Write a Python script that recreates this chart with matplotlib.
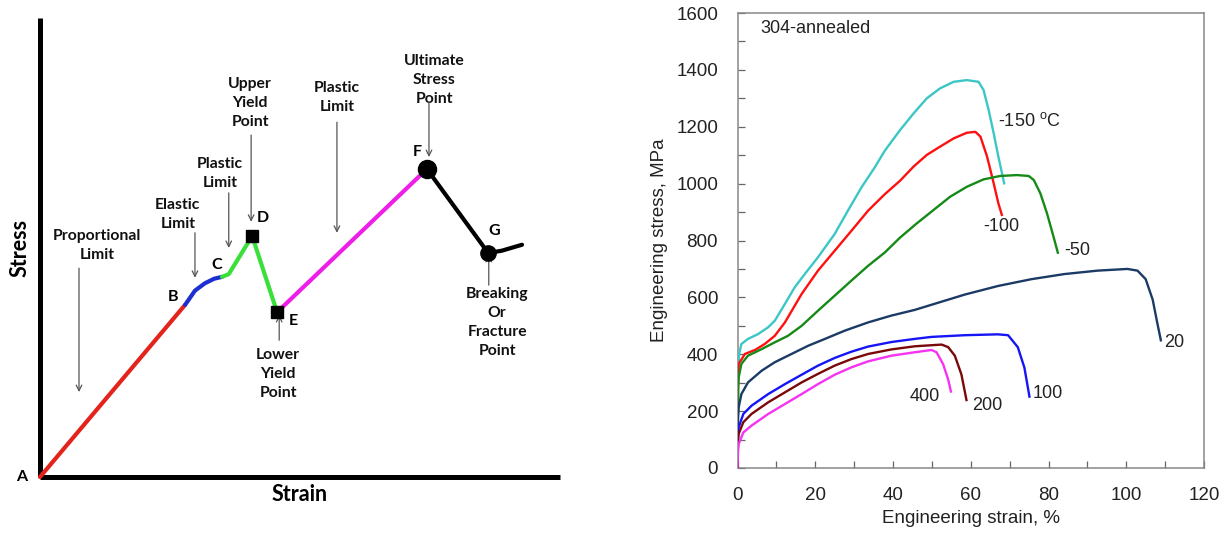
import matplotlib
matplotlib.use("Agg")
import matplotlib.pyplot as plt
from matplotlib.ticker import MultipleLocator

# ---------------- Left panel: schematic stress-strain diagram ----------------
seg_elastic_x = [0.0, 27.9]
seg_elastic_y = [0.0, 37.5]
seg_blue_x = [27.9, 29.8, 31.7, 33.5, 35.0]
seg_blue_y = [37.5, 40.6, 42.2, 43.2, 43.6]
seg_green_x = [35.0, 36.3, 40.8, 45.6]
seg_green_y = [43.6, 44.2, 52.5, 35.9]
seg_magenta_x = [45.6, 74.4]
seg_magenta_y = [35.9, 67.1]
seg_black_x = [74.4, 86.2, 88.8, 92.7]
seg_black_y = [67.1, 48.8, 49.3, 50.6]

square_pts_x = [40.8, 45.6]
square_pts_y = [52.5, 35.9]
circle_pts_x = [74.4, 86.2]
circle_pts_y = [67.1, 48.8]
circle_sizes = [13, 11]

point_letters = ["A", "B", "C", "D", "E", "F", "G"]
point_letter_x = [-3.5, 25.6, 34.0, 42.9, 48.7, 72.5, 87.3]
point_letter_y = [0.0, 39.2, 46.2, 56.4, 34.0, 70.8, 53.6]

notes = ["Proportional\nLimit", "Elastic\nLimit", "Plastic\nLimit", "Upper\nYield\nPoint",
         "Lower\nYield\nPoint", "Plastic\nLimit", "Ultimate\nStress\nPoint",
         "Breaking\nOr\nFracture\nPoint"]
note_x = [11.0, 26.5, 34.6, 40.4, 45.8, 57.1, 75.8, 87.9]
note_y = [50.5, 57.1, 66.2, 81.5, 22.4, 82.6, 86.5, 33.6]
arrow_x = [7.5, 29.8, 36.3, 40.6, 46.0, 57.1, 74.8, 86.3]
arrow_tail_y = [45.5, 53.2, 61.9, 74.5, 29.8, 77.3, 81.7, 41.8]
arrow_head_y = [18.5, 43.4, 49.9, 55.6, 35.3, 53.2, 69.7, 48.4]

# ---------------- Right panel: 304-annealed engineering curves ----------------
temps = ["-150", "-100", "-50", "20", "100", "200", "400"]
colors = ["#3cc6c6", "#ff1010", "#168a16", "#1c3a66", "#1515f5", "#7a0808", "#f533f0"]

strain_m150 = [0, 0.15, 0.4, 1.0, 2.7, 5.3, 7.9, 9.6, 12.2, 14.7, 17.3, 20.7, 25.0, 28.4,
               31.9, 35.3, 37.9, 41.8, 45.3, 48.7, 52.1, 55.6, 59.0, 62.0, 63.3, 64.6,
               65.9, 67.1, 68.6]
stress_m150 = [0, 300, 400, 436, 454, 471, 495, 518, 577, 635, 682, 741, 823, 905,
               987, 1057, 1116, 1188, 1247, 1300, 1335, 1358, 1364, 1358, 1329, 1259,
               1177, 1095, 1001]
strain_m100 = [0, 0.15, 0.3, 1.9, 4.5, 7.0, 9.6, 12.2, 16.5, 20.7, 25.0, 29.3, 33.6, 37.9,
               41.8, 45.3, 48.7, 52.1, 55.6, 59.0, 61.2, 62.5, 64.2, 65.9, 67.1, 68.0]
stress_m100 = [0, 300, 366, 401, 415, 436, 465, 512, 612, 694, 764, 834, 905, 963,
               1010, 1060, 1101, 1130, 1159, 1179, 1182, 1165, 1095, 1001, 931, 890]
strain_m50 = [0, 0.15, 0.3, 1.0, 2.7, 6.2, 9.6, 13.0, 16.5, 20.7, 25.0, 29.3, 33.6, 37.9,
              41.8, 46.1, 50.4, 54.7, 59.0, 63.3, 67.6, 71.9, 74.9, 76.2, 77.9, 79.6,
              81.3, 82.4]
stress_m50 = [0, 280, 319, 366, 395, 418, 442, 465, 500, 553, 606, 659, 711, 758,
              810, 860, 907, 954, 989, 1015, 1027, 1030, 1027, 1013, 966, 896,
              813, 757]
strain_20 = [0, 0.15, 0.3, 1.0, 2.7, 6.2, 9.6, 13.9, 18.2, 22.5, 27.6, 33.6, 39.6, 45.6,
             49.9, 58.5, 67.0, 75.6, 84.1, 92.6, 100.3, 102.9, 105.0, 106.8, 108.0, 108.9]
stress_20 = [0, 180, 213, 260, 301, 342, 372, 401, 430, 454, 483, 512, 536, 556,
             574, 610, 640, 664, 682, 694, 700, 694, 664, 592, 509, 449]
strain_100 = [0, 0.15, 0.3, 1.5, 3.6, 7.9, 12.2, 16.5, 20.7, 25.0, 29.3, 33.6, 39.6, 45.6,
              49.9, 58.5, 67.0, 69.6, 72.1, 73.8, 75.1]
stress_100 = [0, 120, 143, 190, 219, 260, 295, 328, 360, 387, 409, 427, 443, 454,
              461, 467, 470, 467, 425, 353, 251]
strain_200 = [0, 0.15, 0.3, 1.5, 3.6, 7.9, 12.2, 16.5, 20.7, 25.0, 29.3, 33.6, 39.6, 45.6,
              52.5, 54.2, 55.9, 57.6, 58.9]
stress_200 = [0, 100, 120, 161, 190, 231, 266, 301, 331, 360, 383, 401, 417, 428,
              434, 425, 395, 329, 239]
strain_400 = [0, 0.15, 0.3, 1.5, 3.6, 7.9, 12.2, 16.5, 20.7, 25.0, 29.3, 33.6, 39.6, 45.6,
              49.9, 51.2, 52.9, 54.2, 54.9]
stress_400 = [0, 65, 84, 125, 149, 190, 225, 260, 295, 328, 354, 375, 395, 407,
              415, 407, 365, 311, 269]

curve_strains = [strain_m150, strain_m100, strain_m50, strain_20, strain_100, strain_200, strain_400]
curve_stresses = [stress_m150, stress_m100, stress_m50, stress_20, stress_100, stress_200, stress_400]

label_texts = ["-150 $^{\\mathregular{o}}$C", "-100", "-50", "20", "100", "200", "400"]
label_x = [67.0, 63.2, 84.1, 109.7, 76.0, 60.3, 44.4]
label_y = [1221, 850, 766, 443, 263, 221, 251]

x_ticks = [0, 20, 40, 60, 80, 100, 120]
y_ticks = [0, 200, 400, 600, 800, 1000, 1200, 1400, 1600]

# ---------------- Figure ----------------
W, H = 1231, 534
fig = plt.figure(figsize=(W / 100, H / 100), dpi=100)

bold_font = ["Lato", "DejaVu Sans"]

axL = fig.add_axes([40 / W, 1 - 477 / H, 520 / W, 459 / H])
axL.set_xlim(0, 100)
axL.set_ylim(0, 100)
for s in ["top", "right"]:
    axL.spines[s].set_visible(False)
for s in ["left", "bottom"]:
    axL.spines[s].set_linewidth(3.6)
    axL.spines[s].set_color("black")
    axL.spines[s].set_capstyle("butt")
axL.set_xticks([])
axL.set_yticks([])

lw = 3.0
axL.plot(seg_elastic_x, seg_elastic_y, color="#e3241c", lw=lw, solid_capstyle="round", clip_on=False, zorder=3)
axL.plot(seg_blue_x, seg_blue_y, color="#1d2fd0", lw=lw, solid_capstyle="round", zorder=3)
axL.plot(seg_green_x, seg_green_y, color="#3ae03a", lw=lw, solid_capstyle="round", zorder=3)
axL.plot(seg_magenta_x, seg_magenta_y, color="#ee1ee8", lw=lw, solid_capstyle="round", zorder=3)
axL.plot(seg_black_x, seg_black_y, color="black", lw=lw, solid_capstyle="round", zorder=3)
axL.plot(square_pts_x, square_pts_y, ls="none", marker="s", ms=8.5, color="black", zorder=4)
for cx, cy, cs in zip(circle_pts_x, circle_pts_y, circle_sizes):
    axL.plot([cx], [cy], ls="none", marker="o", ms=cs, color="black", zorder=4)

for t, x, y in zip(point_letters, point_letter_x, point_letter_y):
    axL.text(x, y, t, ha="center", va="center", fontsize=11.5, fontweight="bold",
             family=bold_font, clip_on=False)

for t, x, y in zip(notes, note_x, note_y):
    axL.text(x, y, t, ha="center", va="center", fontsize=11.3, fontweight="bold",
             family=bold_font, linespacing=1.45, color="#111111")
for x, yt, yh in zip(arrow_x, arrow_tail_y, arrow_head_y):
    axL.annotate("", xy=(x, yh), xytext=(x, yt),
                 arrowprops=dict(arrowstyle="->", color="#555555", lw=0.9,
                                 shrinkA=0, shrinkB=0, mutation_scale=10))

axL.set_ylabel("Stress", fontsize=15.5, fontweight="bold", family=bold_font, labelpad=7)
axL.set_xlabel("Strain", fontsize=15.5, fontweight="bold", family=bold_font, labelpad=5)

# Right panel
axR = fig.add_axes([737.5 / W, 1 - 468 / H, (1204 - 737.5) / W, (468 - 13) / H])
for cx, cy, c in zip(curve_strains, curve_stresses, colors):
    axR.plot(cx, cy, color=c, lw=1.7, zorder=3, solid_joinstyle="round")
for t, x, y in zip(label_texts, label_x, label_y):
    axR.text(x, y, t, ha="left", va="center", fontsize=13, family="Liberation Sans",
             color="#222222")
axR.text(6, 1544, "304-annealed", ha="left", va="center", fontsize=13,
         family="Liberation Sans", color="#222222")

axR.set_xlim(0, 120)
axR.set_ylim(0, 1600)
axR.set_xticks(x_ticks)
axR.set_yticks(y_ticks)
axR.xaxis.set_minor_locator(MultipleLocator(10))
axR.yaxis.set_minor_locator(MultipleLocator(100))
axR.tick_params(which="both", direction="in", length=5, width=0.9, color="#666666",
                top=False, right=False, labelsize=13.5, pad=14, labelcolor="#222222")
for lab in axR.get_xticklabels() + axR.get_yticklabels():
    lab.set_family("Liberation Sans")
for s in axR.spines.values():
    s.set_color("#888888")
    s.set_linewidth(1.1)
axR.set_xlabel("Engineering strain, %", fontsize=13.5, family="Liberation Sans",
               color="#222222", labelpad=4)
axR.set_ylabel("Engineering stress, MPa", fontsize=13.5, family="Liberation Sans",
               color="#222222", labelpad=6)

fig.savefig("out.png", dpi=100)
